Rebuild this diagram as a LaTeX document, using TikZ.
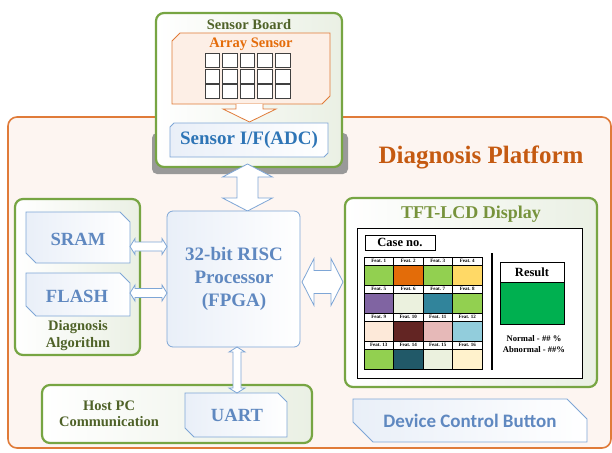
\documentclass[tikz,border=0pt]{standalone}
\usepackage{fontspec}
\setmainfont{Liberation Serif}
\newfontfamily\calfont{Carlito}
\definecolor{grn}{HTML}{77A543}
\definecolor{grntxt}{HTML}{4F6228}
\definecolor{grntitle}{HTML}{77933C}
\definecolor{org}{HTML}{E07B39}
\definecolor{orgtxt}{HTML}{C55A11}
\definecolor{arrtxt}{HTML}{E46C0A}
\definecolor{blu}{HTML}{7EA6D6}
\definecolor{blutxt}{HTML}{2E75B6}
\definecolor{blutxtb}{HTML}{5F88C0}
\definecolor{lblu}{HTML}{E9EFF8}
\definecolor{platfill}{HTML}{FDF5F1}
\definecolor{sbfill}{HTML}{EAF0E4}
\definecolor{peach}{HTML}{FDEFE6}
\definecolor{fA}{HTML}{92D050}
\definecolor{fB}{HTML}{E36C09}
\definecolor{fC}{HTML}{FFD966}
\definecolor{fD}{HTML}{8064A2}
\definecolor{fE}{HTML}{EBF1DE}
\definecolor{fF}{HTML}{31849B}
\definecolor{fG}{HTML}{FDE9D9}
\definecolor{fH}{HTML}{632523}
\definecolor{fI}{HTML}{E6B9B8}
\definecolor{fJ}{HTML}{92CDDC}
\definecolor{fK}{HTML}{215968}
\definecolor{fL}{HTML}{FFF2CC}
\definecolor{resgreen}{HTML}{00B050}
% chamfered box: cut top-right and bottom-left
\newcommand\chamNE[6]{\path[#6] (#1,#2) -- ({#3-#5},#2) -- (#3,{#2+#5}) -- (#3,#4) -- ({#1+#5},#4) -- (#1,{#4-#5}) -- cycle;}
% chamfered box: cut top-left and bottom-right
\newcommand\chamNW[6]{\path[#6] (#1,{#2+#5}) -- ({#1+#5},#2) -- (#3,#2) -- (#3,{#4-#5}) -- ({#3-#5},#4) -- (#1,#4) -- cycle;}
% horizontal double block arrow
\newcommand\hdarr[7]{\path[#7] (#1,#3) -- ({#1+#6},{#3-#5}) -- ({#1+#6},{#3-#4}) -- ({#2-#6},{#3-#4}) -- ({#2-#6},{#3-#5}) -- (#2,#3) -- ({#2-#6},{#3+#5}) -- ({#2-#6},{#3+#4}) -- ({#1+#6},{#3+#4}) -- ({#1+#6},{#3+#5}) -- cycle;}
% vertical double block arrow
\newcommand\vdarr[7]{\path[#7] (#3,#1) -- ({#3+#5},{#1+#6}) -- ({#3+#4},{#1+#6}) -- ({#3+#4},{#2-#6}) -- ({#3+#5},{#2-#6}) -- (#3,#2) -- ({#3-#5},{#2-#6}) -- ({#3-#4},{#2-#6}) -- ({#3-#4},{#1+#6}) -- ({#3-#5},{#1+#6}) -- cycle;}
\begin{document}
\begin{tikzpicture}[x=1pt,y=-1pt,
  grnbox/.style={draw=grn, line width=2.2pt, rounded corners=8pt, left color=white, right color=sbfill},
  blubox/.style={draw=blu, line width=0.8pt, left color=lblu, right color=white},
  bluarr/.style={draw=blu, line width=0.8pt, fill=white},
  grntext/.style={text=grntxt, font=\bfseries\fontsize{14.5}{16.5}\selectfont, align=center},
  blutext/.style={text=blutxtb, font=\bfseries\fontsize{19}{23}\selectfont, align=center},
  memtext/.style={text=blutxtb, font=\bfseries\fontsize{18.6}{20}\selectfont},
  featlbl/.style={font=\bfseries\fontsize{5}{5}\selectfont, inner sep=0pt},
  blk/.style={draw=black, line width=0.6pt}]
\useasboundingbox (0,0) rectangle (612,452);

% Diagnosis platform
\draw[org, line width=1.6pt, rounded corners=9pt, fill=platfill] (8,117) rectangle (611,448);
\node[text=orgtxt, font=\bfseries\fontsize{25}{28}\selectfont] (plat) at (481,157) {Diagnosis Platform};

% shadow of sensor board
\fill[gray!80, rounded corners=5pt] (152,133) rectangle (348,174);

% Sensor board
\draw[grnbox] (156,13) rectangle (342,167);
\node[grntext] (sbt) at (249,25) {Sensor Board};

% Array sensor
\chamNW{172}{33}{330}{104}{8}{draw=org, line width=0.8pt, fill=peach}
\node[text=arrtxt, font=\bfseries\fontsize{14.5}{16}\selectfont] (arrt) at (251,44) {Array Sensor};
\foreach \i in {0,...,4}
  \foreach \j in {0,...,2}
    \draw[draw=black!75, line width=0.8pt, fill=white] ({205+\i*17.6},{53.5+\j*15.4}) rectangle ++(14.5,14);
% orange down arrow
\fill[white] (236,104) -- (236,109) -- (223,109) -- (249.5,122) -- (276,109) -- (263,109) -- (263,104) -- cycle;
\draw[org, line width=0.8pt] (236,104) -- (236,109) -- (223,109) -- (249.5,122) -- (276,109) -- (263,109) -- (263,104);

% Sensor I/F
\chamNW{170}{123}{328}{157}{4}{blubox}
\node[text=blutxt, font=\bfseries\fontsize{19}{22}\selectfont] (sif) at (249,140) {Sensor I/F(ADC)};

% big vertical arrow sensor <-> processor
\vdarr{164}{211}{247.5}{10.5}{25}{13}{bluarr}

% Diagnosis algorithm box
\draw[grnbox] (15,199) rectangle (140,355);
\node[grntext] (alg) at (78,335.5) {Diagnosis\\Algorithm};

% SRAM / FLASH
\chamNE{26}{212}{130}{263}{10}{blubox}
\node[memtext] (sram) at (78,239) {SRAM};
\chamNE{26}{273}{130}{316}{10}{blubox}
\node[memtext] (flash) at (77,296) {FLASH};

% Processor
\draw[blubox, rounded corners=6pt] (167,211) rectangle (300,347);
\node[blutext] (proc) at (234,279) {32-bit RISC\\Processor\\(FPGA)};

% arrows memory <-> processor
\hdarr{130}{167}{246.5}{4.5}{8}{5}{bluarr}
\hdarr{130}{167}{293}{4.5}{8}{5}{bluarr}

% Processor <-> LCD
\hdarr{302}{343}{282}{11.5}{23.5}{12}{bluarr}

% Host PC box
\draw[grnbox] (42,385) rectangle (312,443);
\node[grntext] (host) at (109,414) {Host PC\\Communication};
\chamNE{185}{393}{287}{437}{9}{blubox}
\node[memtext] (uart) at (237,415) {UART};
% processor <-> UART
\vdarr{347}{393}{237}{4}{8}{5}{bluarr}

% TFT-LCD display
\draw[grnbox] (345,198) rectangle (597,387);
\node[text=grntitle, font=\bfseries\fontsize{18}{20}\selectfont] (lcdt) at (471,214) {TFT-LCD Display};
\draw[blk, line width=0.8pt, fill=white] (357,228) rectangle (582,378);
\draw[blk, line width=0.9pt] (365,235) rectangle (435,250);
\node[font=\bfseries\fontsize{12.5}{14}\selectfont] (case) at (400,242.5) {Case no.};
\foreach \r/\c/\col/\n in {0/0/fA/1,0/1/fB/2,0/2/fA/3,0/3/fC/4,
                           1/0/fD/5,1/1/fE/6,1/2/fF/7,1/3/fA/8,
                           2/0/fG/9,2/1/fH/10,2/2/fI/11,2/3/fJ/12,
                           3/0/fA/13,3/1/fK/14,3/2/fE/15,3/3/fL/16}{
  \draw[blk, fill=white] ({364+\c*29.5},{257+\r*28}) rectangle ++(29.5,8);
  \draw[blk, fill=\col] ({364+\c*29.5},{265+\r*28}) rectangle ++(29.5,20);
  \node[featlbl] (f\n) at ({378.75+\c*29.5},{261+\r*28}) {Feat. \n};
}
\draw[black, line width=1.8pt] (492,253) -- (492,370);
\draw[blk, line width=0.8pt, fill=resgreen] (500,262) rectangle (564,324);
\draw[blk, line width=0.8pt, fill=white] (500,262) rectangle (564,282);
\node[font=\bfseries\fontsize{12.5}{14}\selectfont] (res) at (532,272) {Result};
\node[font=\bfseries\fontsize{8.6}{10.5}\selectfont, align=center] (norm) at (534,344) {Normal - \#\# \%\\Abnormal - \#\#\%};

% Device control button
\chamNE{353}{399}{587}{442}{20}{blubox}
\node[text=blutxtb, font=\calfont\bfseries\fontsize{19}{22}\selectfont] (dcb) at (470,421) {Device Control Button};
\end{tikzpicture}
\end{document}
